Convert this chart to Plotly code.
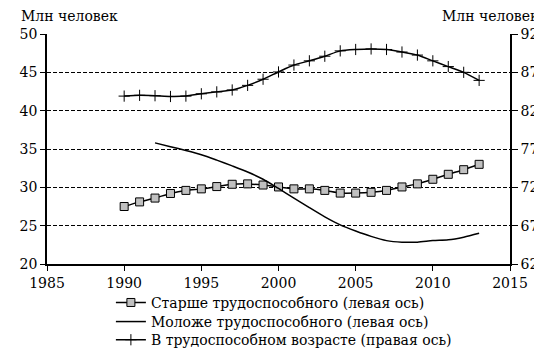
import plotly.graph_objects as go

years_old = list(range(1990, 2014))
older = [27.5, 28.1, 28.6, 29.2, 29.6, 29.8, 30.1, 30.4, 30.45, 30.3, 30.05, 29.8,
         29.8, 29.6, 29.25, 29.25, 29.35, 29.6, 30.05, 30.45, 31.05, 31.7, 32.3, 33.0]

years_young = list(range(1992, 2014))
younger = [35.8, 35.3, 34.8, 34.25, 33.55, 32.8, 32.0, 31.05, 29.85, 28.6, 27.35, 26.15,
           25.1, 24.3, 23.6, 23.05, 22.85, 22.85, 23.05, 23.15, 23.5, 24.0]

years_work = list(range(1990, 2014))
working = [83.9, 84.0, 83.95, 83.85, 83.9, 84.2, 84.45, 84.7, 85.3, 86.1, 87.05, 87.95,
           88.5, 89.1, 89.8, 89.98, 90.05, 89.98, 89.65, 89.25, 88.5, 87.75, 87.0, 85.95]

left_ticks = [20, 25, 30, 35, 40, 45, 50]
right_ticks = [62, 67, 72, 77, 82, 87, 92]
x_ticks = [1985, 1990, 1995, 2000, 2005, 2010, 2015]

names = ["Старше трудоспособного (левая ось)",
         "Моложе трудоспособного (левая ось)",
         "В трудоспособном возрасте (правая ось)"]

font = "DejaVu Serif"

fig = go.Figure()
fig.add_trace(go.Scatter(
    x=years_old, y=older, name=names[0], mode="lines+markers", legend="legend",
    line=dict(color="black", width=1.5, shape="spline", smoothing=0.6),
    marker=dict(symbol="square", size=8, color="#c0c0c0", line=dict(color="black", width=1)),
))
fig.add_trace(go.Scatter(
    x=years_young, y=younger, name=names[1], mode="lines", legend="legend2",
    line=dict(color="black", width=1.5, shape="spline", smoothing=0.8),
))
fig.add_trace(go.Scatter(
    x=years_work, y=working, name=names[2], mode="lines+markers", yaxis="y2",
    legend="legend3",
    line=dict(color="black", width=1.5, shape="spline", smoothing=0.6),
    marker=dict(symbol="cross-thin", size=8, line=dict(color="black", width=1)),
))

leg_common = dict(x=0.138, xanchor="left", yanchor="middle",
                  bgcolor="rgba(0,0,0,0)", font=dict(family=font, size=14),
                  itemwidth=30)

fig.update_layout(
    width=542, height=360,
    margin=dict(l=27, r=30, t=26, b=92),
    paper_bgcolor="white", plot_bgcolor="white",
    font=dict(family=font, size=14, color="black"),
    showlegend=True,
    legend=dict(y=-0.169, **leg_common),
    legend2=dict(y=-0.252, **leg_common),
    legend3=dict(y=-0.331, **leg_common),
    xaxis=dict(range=[1985, 2015], tickvals=x_ticks, showgrid=False,
               showline=True, linecolor="black", linewidth=1.5,
               ticks="outside", ticklen=5, tickcolor="black", zeroline=False,
               tickfont=dict(family=font, size=14)),
    yaxis=dict(range=[20, 50], tickvals=left_ticks, showgrid=True,
               gridcolor="black", griddash="4px,2px", gridwidth=1,
               showline=True, linecolor="black", linewidth=1.5,
               ticks="outside", ticklen=5, tickcolor="black", zeroline=False,
               tickfont=dict(family=font, size=14)),
    yaxis2=dict(range=[62, 92], tickvals=right_ticks, overlaying="y", side="right",
                showgrid=False, showline=True, linecolor="black", linewidth=1.5,
                ticks="outside", ticklen=6, tickcolor="black", zeroline=False,
                tickfont=dict(family=font, size=14)),
    annotations=[
        dict(text="Млн человек", xref="paper", yref="paper", x=0, y=1,
             xshift=-27, yshift=27, xanchor="left", yanchor="top", showarrow=False,
             borderpad=0, font=dict(family=font, size=14)),
        dict(text="Млн человек", xref="paper", yref="paper", x=1, y=1,
             xshift=30, yshift=27, xanchor="right", yanchor="top", showarrow=False,
             borderpad=0, font=dict(family=font, size=14)),
    ],
)

fig.write_html("out.html")
